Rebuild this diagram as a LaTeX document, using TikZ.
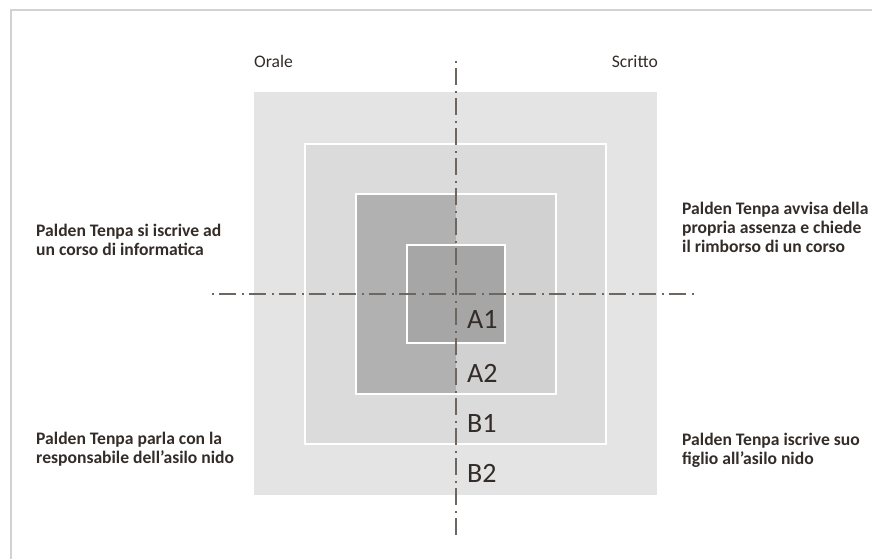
\documentclass[tikz,border=0pt]{standalone}
\usepackage{fontspec}
\setmainfont{Carlito}
\definecolor{txt}{HTML}{332C28}
\definecolor{axis}{HTML}{6E6660}
\definecolor{frame}{HTML}{D2D2D2}
\definecolor{bB2}{HTML}{E4E4E4}
\definecolor{bB1}{HTML}{DBDBDB}
\definecolor{bA2r}{HTML}{D1D1D1}
\definecolor{bA2l}{HTML}{B1B1B1}
\definecolor{bA1}{HTML}{A6A6A6}
\tikzset{
  desc/.style={anchor=base west, inner sep=0pt, text=txt, font=\fontsize{17.6}{19}\selectfont\bfseries},
  side/.style={inner sep=0pt, text=txt, font=\fontsize{17.6}{19}\selectfont},
  level/.style={anchor=base west, inner sep=0pt, text=txt, font=\fontsize{28}{30}\selectfont},
  axisline/.style={draw=axis, line width=1.4pt, dash pattern=on 2pt off 5pt on 17pt off 6pt},
  sqborder/.style={draw=white, line width=1.6pt}
}
\begin{document}
\begin{tikzpicture}[x=1pt,y=-1pt]
\useasboundingbox (0,0) rectangle (872,559);
% frame
\draw[frame, line width=1.5pt] (11,559) -- (11,10) -- (872,10);
% squares
\fill[bB2] (254,92) rectangle (657,495);
\fill[bB1] (305,144) rectangle (606,444);
\draw[sqborder] (305,144) rectangle (606,444);
\fill[bA2r] (456,194) rectangle (556,394);
\fill[bA2l] (356,194) rectangle (456,394);
\draw[sqborder] (356,194) rectangle (556,394);
\fill[bA1] (407,245) rectangle (505,343);
\draw[sqborder] (407,245) rectangle (505,343);
% axes
\coordinate (vtop) at (456,61);
\coordinate (vbot) at (456,540);
\coordinate (hl) at (212,294);
\coordinate (hr) at (697,294);
\draw[axisline] (vtop) -- (vbot);
\draw[axisline] (hl) -- (hr);
% level labels
\node[level] (A1) at (467,328) {A1};
\node[level] (A2) at (467,382) {A2};
\node[level] (B1) at (467,432) {B1};
\node[level] (B2) at (467,482) {B2};
% side labels
\node[side, anchor=base west] (orale) at (254,68) {Orale};
\node[side, anchor=base east] (scritto) at (658,68) {Scritto};
% descriptions
\node[desc] (ul) at (36,236) {\begin{tabular}[t]{@{}l@{}}Palden Tenpa si iscrive ad\\un corso di informatica\end{tabular}};
\node[desc] (ur) at (682,214) {\begin{tabular}[t]{@{}l@{}}Palden Tenpa avvisa della\\propria assenza e chiede\\il rimborso di un corso\end{tabular}};
\node[desc] (ll) at (36,444) {\begin{tabular}[t]{@{}l@{}}Palden Tenpa parla con la\\responsabile dell’asilo nido\end{tabular}};
\node[desc] (lr) at (682,445) {\begin{tabular}[t]{@{}l@{}}Palden Tenpa iscrive suo\\figlio all’asilo nido\end{tabular}};
\end{tikzpicture}
\end{document}
